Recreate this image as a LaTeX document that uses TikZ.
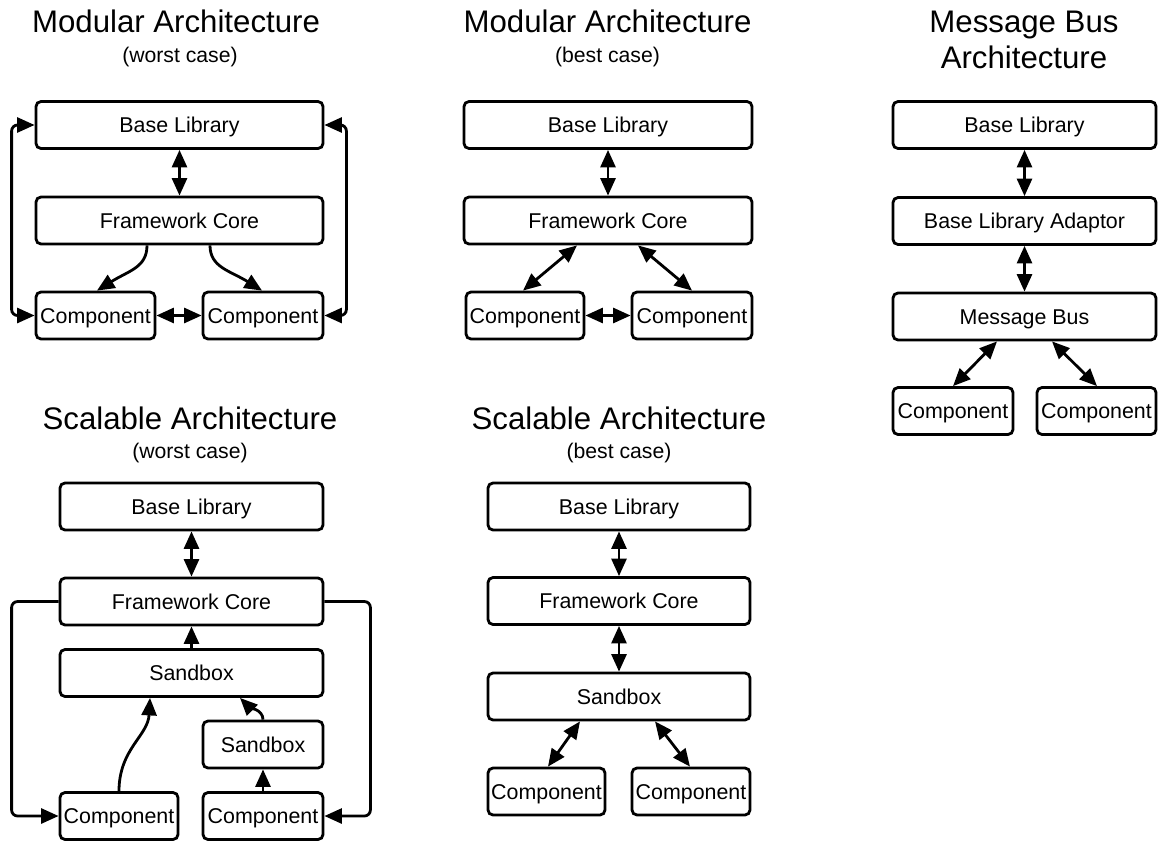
\documentclass[tikz,border=0pt]{standalone}
\usepackage{fontspec}
\setmainfont{Liberation Sans}
\usetikzlibrary{arrows.meta,calc}
\tikzset{
  box/.style={draw, line width=2.8pt, rounded corners=5pt, inner sep=0pt,
    minimum height=47pt, text height=15pt, text depth=0pt,
    font=\fontsize{21.4}{25}\selectfont},
  conn/.style={line width=2.8pt},
  tip/.style={-{Triangle[length=17.5pt,width=15pt]}},
  dtip/.style={{Triangle[length=17.5pt,width=15pt]}-{Triangle[length=17.5pt,width=15pt]}},
  title/.style={anchor=base, inner sep=0pt, font=\fontsize{31.2}{36}\selectfont},
  subtitle/.style={anchor=base, inner sep=0pt, font=\fontsize{21.2}{25}\selectfont},
}
\begin{document}
\begin{tikzpicture}[x=1pt,y=-1pt]
\useasboundingbox[fill=white] (0,0) rectangle (1161,841);

% ---------- Panel 1: Modular (worst case)
\node[title] (t1) at (176,32) {Modular Architecture};
\node[subtitle] (s1) at (180,62) {(worst case)};
\node[box, minimum width=287pt] (bl1) at (179.5,125) {Base Library};
\node[box, minimum width=287pt] (fc1) at (179.5,220.5) {Framework Core};
\node[box, minimum width=119pt] (cl1) at (95.5,315.5) {Component};
\node[box, minimum width=120pt] (cr1) at (263,315.5) {Component};
\draw[conn,dtip] (bl1.south) -- (fc1.north);
\draw[conn,tip] ([xshift=-32.5pt]fc1.south) .. controls +(0,22) and +(32,-20) .. ([xshift=1.5pt]cl1.north);
\draw[conn,tip] ([xshift=30.5pt]fc1.south) .. controls +(0,22) and +(-32,-20) .. ([xshift=-1pt]cr1.north);
\draw[conn,dtip] (cl1.east) -- (cr1.west);
\draw[conn,dtip,rounded corners=6pt] (bl1.west) -- ++(-23,0) |- (cl1.west);
\draw[conn,dtip,rounded corners=6pt] (bl1.east) -- ++(22,0) |- (cr1.east);

% ---------- Panel 2: Modular (best case)
\node[title] (t2) at (607.5,32) {Modular Architecture};
\node[subtitle] (s2) at (607.5,62) {(best case)};
\node[box, minimum width=288pt] (bl2) at (608,125) {Base Library};
\node[box, minimum width=288pt] (fc2) at (608,220.5) {Framework Core};
\node[box, minimum width=118pt] (cl2) at (525,315.5) {Component};
\node[box, minimum width=120pt] (cr2) at (692,315.5) {Component};
\draw[conn,dtip] (bl2.south) -- (fc2.north);
\draw[conn,dtip] ([xshift=-31pt]fc2.south) -- ([xshift=-2pt]cl2.north);
\draw[conn,dtip] ([xshift=30pt]fc2.south) -- (cr2.north);
\draw[conn,dtip] (cl2.east) -- (cr2.west);

% ---------- Panel 3: Message Bus
\node[title] (t3a) at (1024,32) {Message Bus};
\node[title] (t3b) at (1024,68) {Architecture};
\node[box, minimum width=263pt] (bl3) at (1024.5,125) {Base Library};
\node[box, minimum width=263pt] (ad3) at (1024.5,221) {Base Library Adaptor};
\node[box, minimum width=263pt] (mb3) at (1024.5,316.5) {Message Bus};
\node[box, minimum width=120pt] (cl3) at (953,411) {Component};
\node[box, minimum width=119pt] (cr3) at (1096.5,411) {Component};
\draw[conn,dtip] (bl3.south) -- (ad3.north);
\draw[conn,dtip] (ad3.south) -- (mb3.north);
\draw[conn,dtip] ([xshift=-27.5pt]mb3.south) -- (cl3.north);
\draw[conn,dtip] ([xshift=27.5pt]mb3.south) -- ([xshift=0.5pt]cr3.north);

% ---------- Panel 4: Scalable (worst case)
\node[title] (t4) at (190,429) {Scalable Architecture};
\node[subtitle] (s4) at (190,458) {(worst case)};
\node[box, minimum width=263pt] (bl4) at (191.5,506.5) {Base Library};
\node[box, minimum width=263pt] (fc4) at (191.5,601.5) {Framework Core};
\node[box, minimum width=263pt] (sb4) at (191.5,673) {Sandbox};
\node[box, minimum width=120pt] (ss4) at (263,744.5) {Sandbox};
\node[box, minimum width=118pt] (cl4) at (119,816) {Component};
\node[box, minimum width=120pt] (cr4) at (263,816) {Component};
\draw[conn,dtip] (bl4.south) -- (fc4.north);
\draw[conn,tip] (sb4.north) -- (fc4.south);
\draw[conn,tip] (cl4.north) .. controls +(0,-42) and +(-2,38) .. ([xshift=-41.5pt]sb4.south);
\draw[conn,tip] (ss4.north) .. controls +(0,-10) and +(9,9) .. ([xshift=48.5pt]sb4.south);
\draw[conn,tip] (cr4.north) -- (ss4.south);
\draw[conn,tip,rounded corners=6pt] (fc4.west) -- ++(-47,0) |- (cl4.west);
\draw[conn,tip,rounded corners=6pt] (fc4.east) -- ++(46,0) |- (cr4.east);

% ---------- Panel 5: Scalable (best case)
\node[title] (t5) at (619,429) {Scalable Architecture};
\node[subtitle] (s5) at (619,458) {(best case)};
\node[box, minimum width=262pt] (bl5) at (619,506.5) {Base Library};
\node[box, minimum width=262pt] (fc5) at (619,601) {Framework Core};
\node[box, minimum width=262pt] (sb5) at (619,696.5) {Sandbox};
\node[box, minimum width=117pt] (cl5) at (546.5,791.5) {Component};
\node[box, minimum width=118pt] (cr5) at (691,791.5) {Component};
\draw[conn,dtip] (bl5.south) -- (fc5.north);
\draw[conn,dtip] (fc5.south) -- (sb5.north);
\draw[conn,dtip] ([xshift=-39pt]sb5.south) -- ([xshift=1.5pt]cl5.north);
\draw[conn,dtip] ([xshift=36pt]sb5.south) -- ([xshift=-1pt]cr5.north);
\end{tikzpicture}
\end{document}
